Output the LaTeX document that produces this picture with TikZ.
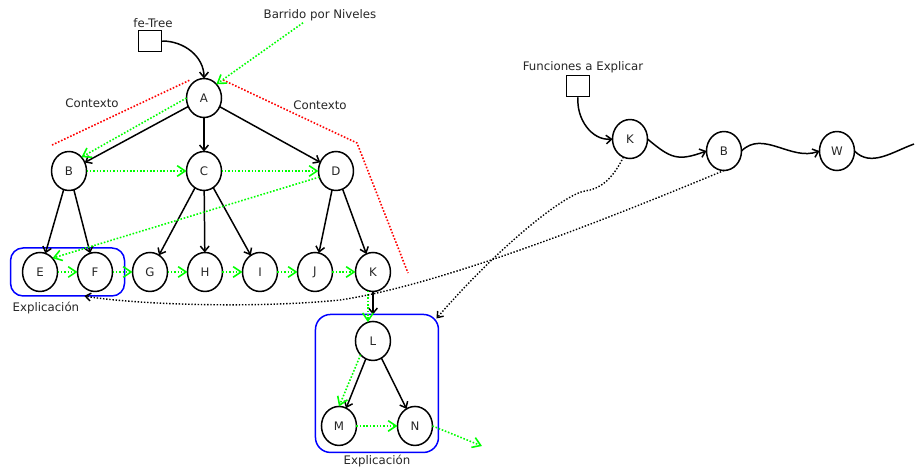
\documentclass[tikz,border=0pt]{standalone}
\usepackage{fontspec}
\setmainfont{DejaVu Sans}
\usepackage{xcolor}
\usepackage{tikz}
\usetikzlibrary{positioning,shapes,arrows.meta,fit}
\tikzstyle{nodo}=[ellipse, draw=black, line width=0.85pt, minimum width=0.7cm,
        minimum height=0.78cm, inner sep=0pt, outer sep=0pt, text=black!85, font=\fontsize{6.7}{8}\selectfont]
\tikzstyle{caja}=[rectangle, draw=black, line width=0.85pt, minimum width=0.46cm,
        minimum height=0.42cm, inner sep=0pt]
\tikzstyle{texto}=[inner sep=1pt, text=black!85, font=\fontsize{6.7}{8}\selectfont]
\tikzstyle{grupo}=[rectangle, draw=blue, line width=0.85pt, outer sep=0pt]
\tikzstyle{arista}=[-{Straight Barb[length=3pt,width=5pt]}, line width=0.85pt]
\tikzstyle{barrido}=[-{Straight Barb[length=4.5pt,width=6pt]}, draw=green, densely dotted, line width=0.9pt]
\tikzstyle{enlace}=[-{Straight Barb[length=3pt,width=4.5pt]}, densely dotted, line width=0.8pt]
\tikzstyle{contexto}=[draw=red, densely dotted, line width=0.9pt]

\begin{document}
\begin{tikzpicture}[x=0.02cm, y=0.02cm]
        \useasboundingbox (0,0) rectangle (915,-468);
        % arbol
        \node (A) [nodo] at (204,-98) {A};
        \node (B) [nodo, below=0.68cm of A, xshift=-2.7cm] {B};
        \node (C) [nodo, below=0.68cm of A] {C};
        \node (D) [nodo, below=0.68cm of A, xshift=2.64cm] {D};
        \node (E) [nodo, below=1.24cm of B, xshift=-0.58cm] {E};
        \node (F) [nodo, right=0.4cm of E] {F};
        \node (G) [nodo, right=0.4cm of F] {G};
        \node (H) [nodo, right=0.4cm of G] {H};
        \node (I) [nodo, right=0.4cm of H] {I};
        \node (J) [nodo, right=0.4cm of I] {J};
        \node (K) [nodo, right=0.46cm of J] {K};
        \node (L) [nodo, below=0.6cm of K] {L};
        \node (M) [nodo, below=0.92cm of L, xshift=-0.68cm] {M};
        \node (N) [nodo, right=0.82cm of M] {N};
        \node (feBox) [caja] at (150,-41) {};
        \node (feLbl) [texto, above=0cm of feBox, xshift=0.06cm] {fe-Tree};
        \node (barridoLbl) [texto] at (320,-15) {Barrido por Niveles};
        \node (ctxIzq) [texto] at (92,-103) {Contexto};
        \node (ctxDer) [texto] at (320,-105) {Contexto};
        % explicaciones
        \node (expl1) [grupo, rounded corners=0.25cm, inner xsep=0.24cm, inner ysep=0.09cm, fit=(E)(F)] {};
        \node (expl2) [grupo, rounded corners=0.3cm, inner xsep=0.12cm, inner ysep=0.14cm, fit=(L)(M)(N)] {};
        \node (explLbl1) [texto, below right=0.08cm and 0cm of expl1.south west] {Explicación};
        \node (explLbl2) [texto, below=0.02cm of expl2] {Explicación};
        % funciones
        \node (funcBox) [caja] at (578,-86) {};
        \node (funcLbl) [texto, above=0cm of funcBox, xshift=0.1cm] {Funciones a Explicar};
        \node (K2) [nodo] at (630,-139) {K};
        \node (B2) [nodo, right=1.18cm of K2, yshift=-0.24cm] {B};
        \node (W) [nodo, right=1.56cm of B2] {W};
        \coordinate (fin) at (914,-144);
        \coordinate (salida) at (482,-446);

        % contexto
        \draw[contexto] (52,-145) -- (190,-80);
        \draw[contexto] (223,-80) -- (357,-143) -- (408,-273);

        % aristas
        \foreach \a/\b in {A/B,A/C,A/D,B/E,B/F,C/G,C/H,C/I,D/J,D/K,L/M,L/N}
          \draw[arista] (\a) -- (\b);
        \draw[arista] (K) -- (K |- expl2.north);
        \draw[arista] (feBox.east) to[out=0,in=90] (A.north);
        \draw[arista] (funcBox.south) to[out=265,in=185] (K2.west);
        \draw[arista] (K2.east) to[out=-40,in=200,looseness=1.3] (B2.west);
        \draw[arista] (B2.east) to[out=45,in=200] (W.west);
        \draw[line width=0.85pt] (W.east) to[out=-45,in=200] (fin);

        % barrido por niveles
        \draw[barrido] ([xshift=-0.34cm]barridoLbl.south) -- (A.north east);
        \draw[barrido] (A.west) -- (B.north east);
        \foreach \a/\b in {B/C,C/D,E/F,F/G,G/H,H/I,I/J,J/K,M/N}
          \draw[barrido] (\a.east) -- (\b.west);
        \draw[barrido] (D.200) -- (E.north east);
        \draw[barrido] (K.255) -- (L.105);
        \draw[barrido] (L.south west) -- (M.north);
        \draw[barrido] (N.east) -- (salida);

        % enlaces a explicaciones
        \draw[enlace] (K2.250) .. controls (612,-180) and (600,-189) .. (585,-191)
          .. controls (565,-194) and (500,-245) .. ([xshift=-0.04cm,yshift=-0.08cm]expl2.north east);
        \draw[enlace] (B2.south) .. controls (600,-222) and (440,-285) .. (340,-300)
          .. controls (250,-309) and (130,-304) .. (expl1.-55);
\end{tikzpicture}
\end{document}
